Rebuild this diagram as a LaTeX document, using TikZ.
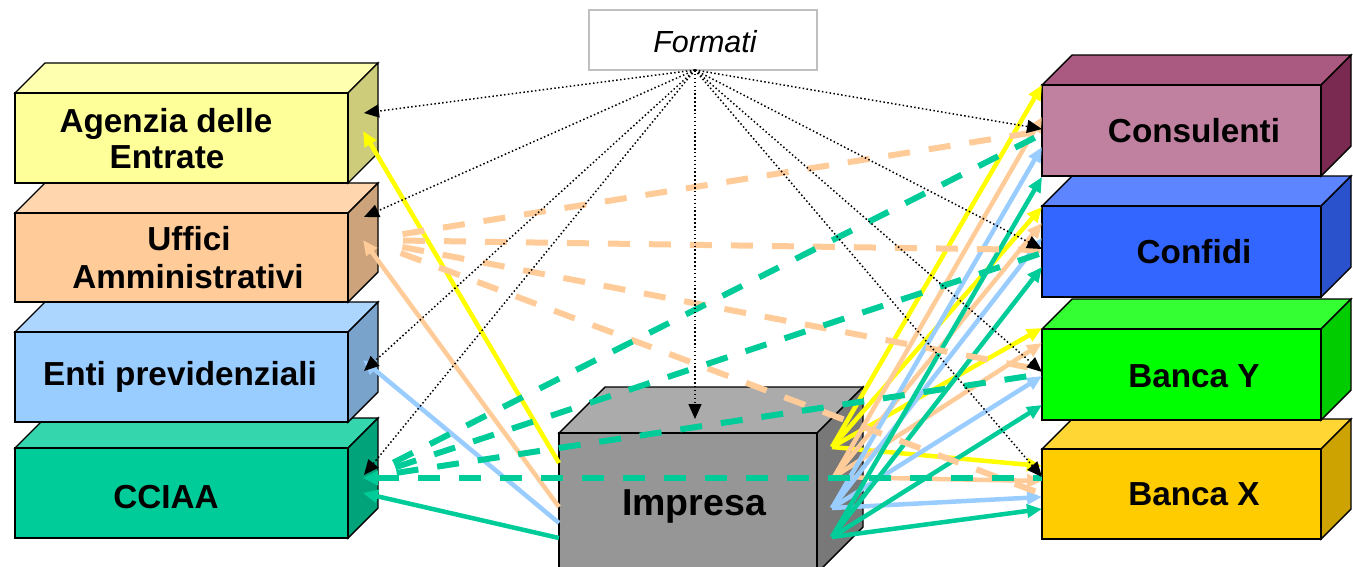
\documentclass[tikz,border=0pt]{standalone}
\usepackage{fontspec}
\setmainfont{Liberation Sans}
\usetikzlibrary{arrows.meta}
\definecolor{agF}{HTML}{FFFF99}\definecolor{agT}{HTML}{FFFFB0}\definecolor{agS}{HTML}{CCCC7A}
\definecolor{ufF}{HTML}{FFCC99}\definecolor{ufT}{HTML}{FFD6AD}\definecolor{ufS}{HTML}{CCA37A}
\definecolor{enF}{HTML}{99CCFF}\definecolor{enT}{HTML}{ADD6FF}\definecolor{enS}{HTML}{7AA3CC}
\definecolor{ccF}{HTML}{00CC99}\definecolor{ccT}{HTML}{33D6AD}\definecolor{ccS}{HTML}{00A37A}
\definecolor{imF}{HTML}{969696}\definecolor{imT}{HTML}{ABABAB}\definecolor{imS}{HTML}{787878}
\definecolor{coF}{HTML}{C080A0}\definecolor{coT}{HTML}{AA5A80}\definecolor{coS}{HTML}{7A2A50}
\definecolor{cfF}{HTML}{3366FF}\definecolor{cfT}{HTML}{5C85FF}\definecolor{cfS}{HTML}{2952CC}
\definecolor{byF}{HTML}{00FF00}\definecolor{byT}{HTML}{33FF33}\definecolor{byS}{HTML}{00CC00}
\definecolor{bxF}{HTML}{FFCC00}\definecolor{bxT}{HTML}{FFD633}\definecolor{bxS}{HTML}{CCA300}
\definecolor{lnY}{HTML}{FFFF00}\definecolor{lnP}{HTML}{FFCC99}
\definecolor{lnB}{HTML}{99CCFF}\definecolor{lnG}{HTML}{00CC99}
\definecolor{fmtB}{HTML}{BFBFBF}
\newcommand{\mybox}[8]{%
  \filldraw[fill=#7,boxline] (#1,#2) -- ++(#5,-#5) -- ++(#3,0) -- ++(-#5,#5) -- cycle;
  \filldraw[fill=#8,boxline] (#1+#3,#2) -- ++(#5,-#5) -- ++(0,#4) -- ++(-#5,#5) -- cycle;
  \filldraw[fill=#6,boxline] (#1,#2) rectangle ++(#3,#4);}
\begin{document}
\begin{tikzpicture}[x=1pt,y=-1pt,
  boxline/.style={draw=black,line width=1.4pt,line join=miter},
  lbl/.style={font=\bfseries\fontsize{33.3}{36}\selectfont,anchor=base,inner sep=0pt},
  solidarrow/.style={line width=4.5pt,-{Triangle[length=15pt,width=13pt]}},
  dashline/.style={line width=6pt,dash pattern=on 22pt off 19pt,dash phase=22pt},
  dasharrow/.style={line width=6pt,dash pattern=on 22pt off 19pt,{Triangle[length=15pt,width=14pt]}-},
  dotarrow/.style={line width=1.5pt,dash pattern=on 1.5pt off 2.4pt,-{Triangle[length=15pt,width=13pt]}}]
\useasboundingbox (0,0) rectangle (1353,566);
\clip (0,0) rectangle (1353,566);
% ---------- boxes ----------
\mybox{15}{448}{333}{90}{30}{ccF}{ccT}{ccS}
\mybox{15}{332}{333}{90}{30}{enF}{enT}{enS}
\mybox{15}{213}{333}{89}{30}{ufF}{ufT}{ufS}
\mybox{15}{93}{333}{90}{30}{agF}{agT}{agS}
\mybox{1042}{449}{279}{90}{30}{bxF}{bxT}{bxS}
\mybox{1042}{329}{279}{91}{30}{byF}{byT}{byS}
\mybox{1042}{206}{279}{91}{30}{cfF}{cfT}{cfS}
\mybox{1042}{85}{279}{91}{30}{coF}{coT}{coS}
\mybox{559}{433}{258}{140}{46}{imF}{imT}{imS}
\node[draw=fmtB,line width=1.2pt,fill=white,minimum width=228pt,minimum height=60pt,inner sep=0pt] (fmtbox) at (703,40) {};
% ---------- labels ----------
\node[lbl] (agA) at (166,132) {Agenzia delle};
\node[lbl] (agB) at (167,168) {Entrate};
\node[lbl] (ufA) at (189,250) {Uffici};
\node[lbl] (ufB) at (188,288) {Amministrativi};
\node[lbl] (en) at (180,385) {Enti previdenziali};
\node[lbl] (cc) at (166,508) {CCIAA};
\node[lbl,font=\bfseries\fontsize{37.5}{40}\selectfont] (im) at (694,515) {Impresa};
\node[lbl] (co) at (1194,142) {Consulenti};
\node[lbl] (cf) at (1194,263) {Confidi};
\node[lbl] (by) at (1194,387) {Banca Y};
\node[lbl] (bx) at (1194,505) {Banca X};
\node[anchor=base,inner sep=0pt,font=\itshape\fontsize{30.5}{33}\selectfont] (fmt) at (705,52) {Formati};
% ---------- ports ----------
\coordinate (fo) at (695,70);
\coordinate (im-d) at (695,419);
% Impresa left side
\coordinate (imL-y) at (559,463);\coordinate (imL-p) at (559,507);
\coordinate (imL-b) at (559,523);\coordinate (imL-g) at (559,538);
% Impresa right side
\coordinate (imR-y) at (832,447);\coordinate (imR-p) at (834,477);
\coordinate (imR-b) at (832,508);\coordinate (imR-g) at (832,537);
% left boxes
\coordinate (ag-d) at (364,113);\coordinate (ag-y) at (363,131);
\coordinate (uf-d) at (364,217);\coordinate (uf-p) at (363,240);\coordinate (uf-pd) at (366,240);
\coordinate (en-b) at (363,360);\coordinate (en-d) at (364,371);
\coordinate (cc-d) at (364,475);\coordinate (cc-gd) at (363,478);\coordinate (cc-g) at (363,493);
% right boxes
\foreach \n/\y/\p/\d/\pd/\gd/\b/\g in {co/85/117/129/131/134/147/177, cf/207/223/249/250/253/238/267, by/328/343/372/370/374/376/405, bx/466/481/477/494/478/497/509}{
  \coordinate (\n-y) at (1042,\y);\coordinate (\n-p) at (1042,\p);
  \coordinate (\n-d) at (1042,\d);\coordinate (\n-pd) at (1042,\pd);
  \coordinate (\n-gd) at (1042,\gd);\coordinate (\n-b) at (1042,\b);
  \coordinate (\n-g) at (1042,\g);}
% ---------- solid arrows ----------
\draw[solidarrow,lnY] (imL-y) -- (ag-y);
\draw[solidarrow,lnP] (imL-p) -- (uf-p);
\draw[solidarrow,lnB] (imL-b) -- (en-b);
\draw[solidarrow,lnG] (imL-g) -- (cc-g);
\foreach \n in {co,cf,by,bx}{
  \draw[solidarrow,lnY] (imR-y) -- (\n-y);}
\foreach \n in {co,cf,by,bx}{
  \draw[solidarrow,lnP] (imR-p) -- (\n-p);}
\foreach \n in {co,cf,by,bx}{
  \draw[solidarrow,lnB] (imR-b) -- (\n-b);}
\foreach \n in {co,cf,by,bx}{
  \draw[solidarrow,lnG] (imR-g) -- (\n-g);}
% ---------- dashed connectors ----------
\foreach \n in {co,cf,by,bx}{
  \draw[dashline,lnP,shorten <=18pt] (uf-pd) -- (\n-pd);}
\foreach \n in {co,cf,by}{
  \draw[dashline,lnG,shorten <=15pt] (cc-gd) -- (\n-gd);}
\draw[dasharrow,lnG] (cc-gd) -- (bx-gd);
% ---------- dotted arrows ----------
\foreach \t in {ag-d,uf-d,en-d,cc-d,im-d,co-d,cf-d,by-d,bx-d}{
  \draw[dotarrow] (fo) -- (\t);}
\end{tikzpicture}
\end{document}
